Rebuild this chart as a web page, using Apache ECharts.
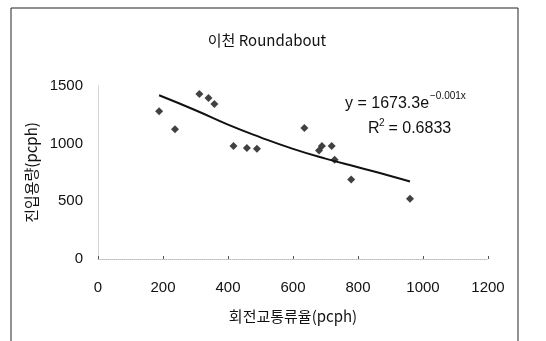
<!DOCTYPE html>
<html>
<head>
<meta charset="utf-8">
<script src="https://cdn.jsdelivr.net/npm/echarts@6/dist/echarts.min.js"></script>
<style>
  html, body { margin: 0; padding: 0; background: #fff; }
  #chart { width: 546px; height: 341px; }
</style>
</head>
<body>
<div id="chart"></div>
<script>
// observed points (회전교통류율, 진입용량)
const flowX = [188, 237, 312, 340, 358, 417, 458, 489, 635, 680, 689, 719, 728, 779, 960];
const capY = [1280, 1125, 1430, 1395, 1345, 980, 962, 955, 1135, 940, 980, 980, 860, 690, 522];

// trend curve
const trendX = [188, 300, 400, 500, 600, 700, 800, 900, 960];
const trendY = [1420, 1290, 1165, 1055, 955, 870, 795, 720, 672];

const xTicks = [0, 1200, 200];
const yTicks = [0, 1500, 500];

const FONT = '"Liberation Sans", Arial, "Noto Sans CJK KR", sans-serif';
const KFONT = '"Noto Sans CJK KR", "Liberation Sans", sans-serif';
const TXT = { fontFamily: FONT, color: '#111', fontSize: 15 };

const chart = echarts.init(document.getElementById('chart'));

function txt(x, y, s, size) {
  return {
    type: 'text', x: x, y: y, silent: true,
    style: { text: s, fontFamily: FONT, fontSize: size, fill: '#111', textVerticalAlign: 'middle' }
  };
}

chart.setOption({
  backgroundColor: '#fff',
  animation: false,
  title: {
    text: '이천 Roundabout',
    left: 262, top: 28, textAlign: 'center',
    textStyle: { fontFamily: KFONT, fontWeight: 'normal', fontSize: 15, color: '#111' }
  },
  grid: { left: 98, right: 58, top: 86, bottom: 82 },
  xAxis: {
    type: 'value', min: xTicks[0], max: xTicks[1], interval: xTicks[2],
    name: '회전교통류율(pcph)', nameLocation: 'middle', nameGap: 50,
    nameTextStyle: { fontFamily: KFONT, fontSize: 15, color: '#111' },
    axisLine: { onZero: false, lineStyle: { color: '#bbb', type: 'dotted', width: 1 } },
    axisTick: { inside: true, length: 3, lineStyle: { color: '#555' } },
    axisLabel: { ...TXT, margin: 21, formatter: v => String(v) },
    splitLine: { show: false }
  },
  yAxis: {
    type: 'value', min: yTicks[0], max: yTicks[1], interval: yTicks[2],
    name: '진입용량(pcph)', nameLocation: 'middle', nameGap: 56, nameRotate: 90,
    nameTextStyle: { fontFamily: KFONT, fontSize: 15, color: '#111' },
    axisLine: { show: true, lineStyle: { color: '#ccc', type: 'dotted', width: 1 } },
    axisTick: { show: false },
    axisLabel: { ...TXT, margin: 15, formatter: v => String(v) },
    splitLine: { show: false }
  },
  series: [
    {
      type: 'line',
      data: trendX.map((x, i) => [x, trendY[i]]),
      smooth: true, showSymbol: false, silent: true,
      lineStyle: { color: '#111', width: 2 }, z: 2
    },
    {
      type: 'scatter',
      data: flowX.map((x, i) => [x, capY[i]]),
      symbol: 'diamond', symbolSize: 8,
      itemStyle: { color: '#111' }, z: 3
    }
  ],
  graphic: [
    {
      type: 'rect', silent: true,
      shape: { x: 11, y: 8, width: 507, height: 340 },
      style: { fill: 'none', stroke: '#222', lineWidth: 1 }
    },
    txt(345, 104, 'y = 1673.3e', 16),
    txt(430, 96, '−0.001x', 10),
    txt(368, 129, 'R', 16),
    txt(379, 123, '2', 10),
    txt(384, 129, ' = 0.6833', 16)
  ]
});
</script>
</body>
</html>
